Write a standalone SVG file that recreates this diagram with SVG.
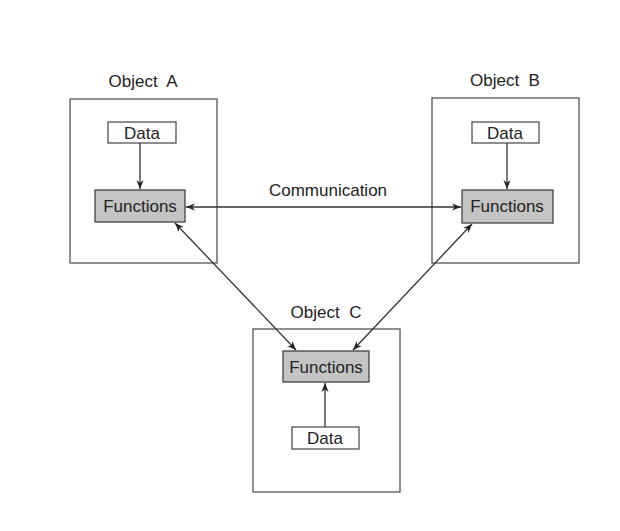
<svg xmlns="http://www.w3.org/2000/svg" width="620" height="531" viewBox="0 0 620 531">
<defs>
<marker id="ah" viewBox="0 0 10 10" refX="10" refY="5" markerWidth="9" markerHeight="9" orient="auto-start-reverse" markerUnits="userSpaceOnUse">
<path d="M0,1 L10,5 L0,9 L3,5 Z" fill="#222"/>
</marker>
</defs>
<style>
.obj{fill:#fff;stroke:#555;stroke-width:1.3}
.data{fill:#fff;stroke:#444;stroke-width:1.2}
.fn{fill:#c4c4c4;stroke:#444;stroke-width:1.3}
text{font-family:"Liberation Sans",Arial,sans-serif;fill:#222;font-size:17px;text-anchor:middle}
.con{stroke:#333;stroke-width:1.3;fill:none}
</style>
<rect width="620" height="531" fill="#fff"/>
<g id="objA">
<rect class="obj" x="70" y="99" width="147" height="164"/>
<text x="143" y="87">Object&#160; A</text>
</g>
<g id="dataA">
<rect class="data" x="108" y="122" width="68" height="21"/>
<text x="142" y="139">Data</text>
</g>
<g id="fnA">
<rect class="fn" x="95" y="190" width="90" height="32"/>
<text x="140" y="212">Functions</text>
</g>
<g id="objB">
<rect class="obj" x="432" y="98" width="147" height="165"/>
<text x="505" y="86">Object&#160; B</text>
</g>
<g id="dataB">
<rect class="data" x="472" y="122" width="67" height="21"/>
<text x="505" y="139">Data</text>
</g>
<g id="fnB">
<rect class="fn" x="462" y="190" width="91" height="33"/>
<text x="507" y="212">Functions</text>
</g>
<g id="objC">
<rect class="obj" x="253" y="329" width="147" height="163"/>
<text x="326" y="318">Object&#160; C</text>
</g>
<g id="fnC">
<rect class="fn" x="283" y="351" width="86" height="31"/>
<text x="326" y="373">Functions</text>
</g>
<g id="dataC">
<rect class="data" x="292" y="427" width="67" height="22"/>
<text x="325" y="444">Data</text>
</g>
<g id="connectors">
<line class="con" x1="140" y1="143" x2="140" y2="189" marker-end="url(#ah)"/>
<line class="con" x1="507" y1="143" x2="507" y2="189" marker-end="url(#ah)"/>
<line class="con" x1="325" y1="427" x2="325" y2="383" marker-end="url(#ah)"/>
<line class="con" x1="186" y1="207" x2="461" y2="207" marker-start="url(#ah)" marker-end="url(#ah)"/>
<line class="con" x1="175" y1="223" x2="296" y2="350" marker-start="url(#ah)" marker-end="url(#ah)"/>
<line class="con" x1="472" y1="224" x2="353" y2="350" marker-start="url(#ah)" marker-end="url(#ah)"/>
<text x="328" y="196">Communication</text>
</g>
</svg>
